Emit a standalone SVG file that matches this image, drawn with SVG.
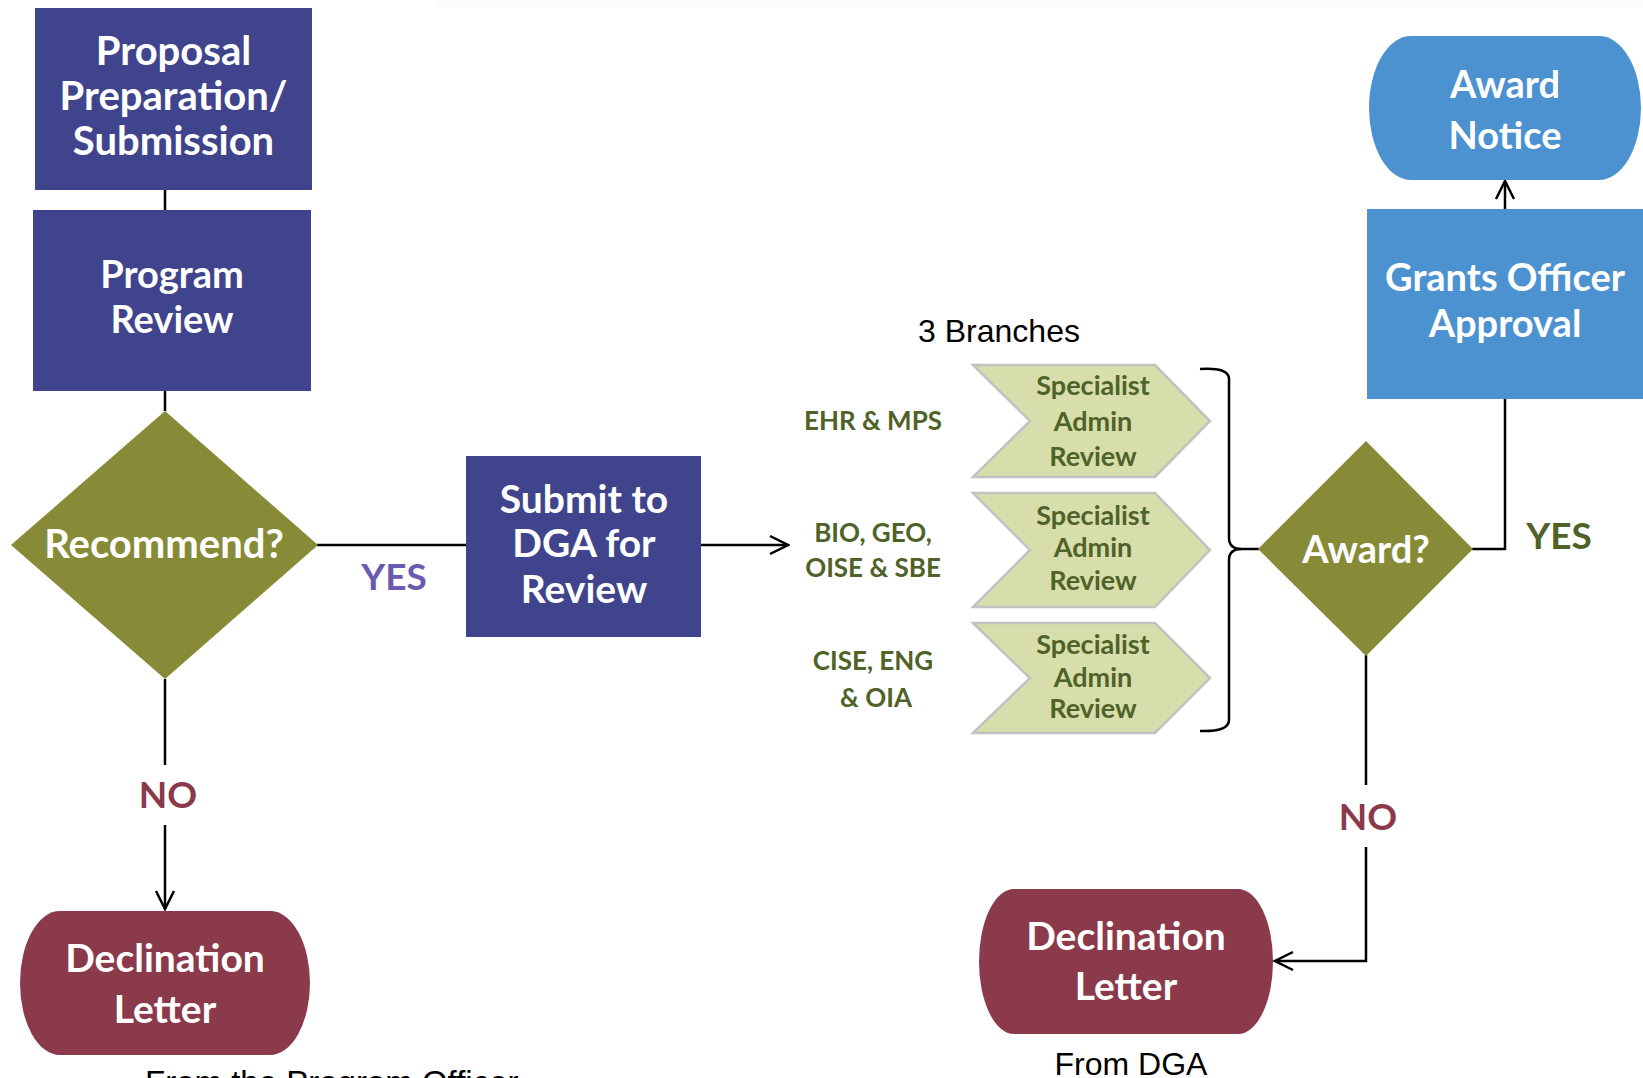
<svg xmlns="http://www.w3.org/2000/svg" width="1643" height="1078" viewBox="0 0 1643 1078">
<style>
.b{font-family:Lato,"Open Sans","Liberation Sans",sans-serif;font-weight:700;text-anchor:middle}
.w{fill:#ffffff}
.g{fill:#4f6228}
.r{font-family:"Liberation Sans",Arial,sans-serif;font-weight:400;fill:#000}
.navy{fill:#40448c}
.olive{fill:#878b37}
.maroon{fill:#8b3a4b}
.sky{fill:#4d92d0}
.chev{fill:#d7deab;stroke:#c2c2c2;stroke-width:2.5}
.ln{fill:none;stroke:#000;stroke-width:2.5}
</style>
<defs>
<marker id="arr" viewBox="0 0 22 22" refX="20" refY="11" markerWidth="22" markerHeight="22" markerUnits="userSpaceOnUse" orient="auto">
<path d="M2,2 L20,11 L2,20" fill="none" stroke="#000" stroke-width="2.5"/>
</marker>
</defs>
<rect x="0" y="0" width="1643" height="1078" fill="#ffffff"/>
<rect x="435" y="0" width="1208" height="7" fill="#fafbfd"/>

<g id="connectors">
<line class="ln" x1="165" y1="190" x2="165" y2="210"/>
<line class="ln" x1="165" y1="391" x2="165" y2="411"/>
<line class="ln" x1="317" y1="545" x2="466" y2="545"/>
<line class="ln" x1="701" y1="545" x2="788" y2="545" marker-end="url(#arr)"/>
<line class="ln" x1="165" y1="679" x2="165" y2="765"/>
<line class="ln" x1="165" y1="825" x2="165" y2="909" marker-end="url(#arr)"/>
<path class="ln" d="M1200,369 Q1229,367 1229,379 L1229,538 Q1229,549 1242,549 Q1229,549 1229,560 L1229,720 Q1229,732 1200,731"/>
<line class="ln" x1="1242" y1="549" x2="1259" y2="549"/>
<path class="ln" d="M1472,549 H1505 V398"/>
<line class="ln" x1="1505" y1="209" x2="1505" y2="181" marker-end="url(#arr)"/>
<line class="ln" x1="1366" y1="655" x2="1366" y2="785"/>
<path class="ln" d="M1366,847 V961 H1275" marker-end="url(#arr)"/>
</g>

<g id="proposal">
<rect class="navy" x="35" y="8" width="277" height="182"/>
<text class="b w" font-size="40" x="173.5" y="65">Proposal</text>
<text class="b w" font-size="40" x="173.5" y="110">Preparation/</text>
<text class="b w" font-size="40" x="173.5" y="155">Submission</text>
</g>

<g id="program-review">
<rect class="navy" x="33" y="210" width="278" height="181"/>
<text class="b w" font-size="38" x="172" y="288">Program</text>
<text class="b w" font-size="38" x="172" y="333">Review</text>
</g>

<g id="recommend">
<polygon class="olive" points="165,411 318,545 165,679 11,545"/>
<text class="b w" font-size="40" x="164" y="558">Recommend?</text>
</g>

<g id="yes-left"><text class="b" font-size="37" fill="#6b5bb0" x="394" y="590">YES</text></g>

<g id="submit">
<rect class="navy" x="466" y="456" width="235" height="181"/>
<text class="b w" font-size="39" x="584" y="513">Submit to</text>
<text class="b w" font-size="39" x="584" y="557">DGA for</text>
<text class="b w" font-size="39" x="584" y="603">Review</text>
</g>

<g id="branches-title"><text class="r" font-size="32" x="999" y="342" text-anchor="middle">3 Branches</text></g>

<g id="label-ehr"><text class="b g" font-size="26" x="873" y="430">EHR &amp; MPS</text></g>
<g id="label-bio">
<text class="b g" font-size="26" x="873" y="542">BIO, GEO,</text>
<text class="b g" font-size="26" x="873" y="577">OISE &amp; SBE</text>
</g>
<g id="label-cise">
<text class="b g" font-size="26" x="873" y="670">CISE, ENG</text>
<text class="b g" font-size="26" x="876" y="707">&amp; OIA</text>
</g>

<g id="specialist-1">
<polygon class="chev" points="973,365 1155,365 1210,421 1155,477 973,477 1030,421"/>
<text class="b g" font-size="27" x="1093" y="395">Specialist</text>
<text class="b g" font-size="27" x="1093" y="431">Admin</text>
<text class="b g" font-size="27" x="1093" y="466">Review</text>
</g>
<g id="specialist-2">
<polygon class="chev" points="973,493 1155,493 1210,550 1155,607 973,607 1030,550"/>
<text class="b g" font-size="27" x="1093" y="525">Specialist</text>
<text class="b g" font-size="27" x="1093" y="557">Admin</text>
<text class="b g" font-size="27" x="1093" y="590">Review</text>
</g>
<g id="specialist-3">
<polygon class="chev" points="973,623 1155,623 1210,678 1155,733 973,733 1030,678"/>
<text class="b g" font-size="27" x="1093" y="654">Specialist</text>
<text class="b g" font-size="27" x="1093" y="687">Admin</text>
<text class="b g" font-size="27" x="1093" y="718">Review</text>
</g>

<g id="award-decision">
<polygon class="olive" points="1366,441 1473,549 1366,656 1258,549"/>
<text class="b w" font-size="38" x="1366" y="563">Award?</text>
</g>

<g id="yes-right"><text class="b g" font-size="37" x="1559" y="549">YES</text></g>

<g id="grants-officer">
<rect class="sky" x="1367" y="209" width="280" height="190"/>
<text class="b w" font-size="38" x="1505" y="291">Grants Officer</text>
<text class="b w" font-size="38" x="1505" y="337">Approval</text>
</g>

<g id="award-notice">
<path class="sky" d="M1411,36 H1599 A42,72 0 0 1 1599,180 H1411 A42,72 0 0 1 1411,36 Z"/>
<text class="b w" font-size="38" x="1505" y="98">Award</text>
<text class="b w" font-size="38" x="1505" y="149">Notice</text>
</g>

<g id="no-left"><text class="b" font-size="37" fill="#8b3a4b" x="168" y="808">NO</text></g>
<g id="no-right"><text class="b" font-size="37" fill="#8b3a4b" x="1368" y="830">NO</text></g>

<g id="declination-left">
<path class="maroon" d="M60,911 H270 A40,72 0 0 1 270,1055 H60 A40,72 0 0 1 60,911 Z"/>
<text class="b w" font-size="39" x="165" y="972">Declination</text>
<text class="b w" font-size="39" x="165" y="1023">Letter</text>
</g>

<g id="declination-right">
<path class="maroon" d="M1014,889 H1238 A35,72.5 0 0 1 1238,1034 H1014 A35,72.5 0 0 1 1014,889 Z"/>
<text class="b w" font-size="39" x="1126" y="950">Declination</text>
<text class="b w" font-size="39" x="1126" y="1000">Letter</text>
</g>

<g id="from-dga"><text class="r" font-size="32" x="1131" y="1075" text-anchor="middle">From DGA</text></g>
<g id="from-po"><text class="r" font-size="33" x="145" y="1094">From the Program Officer</text></g>
</svg>
